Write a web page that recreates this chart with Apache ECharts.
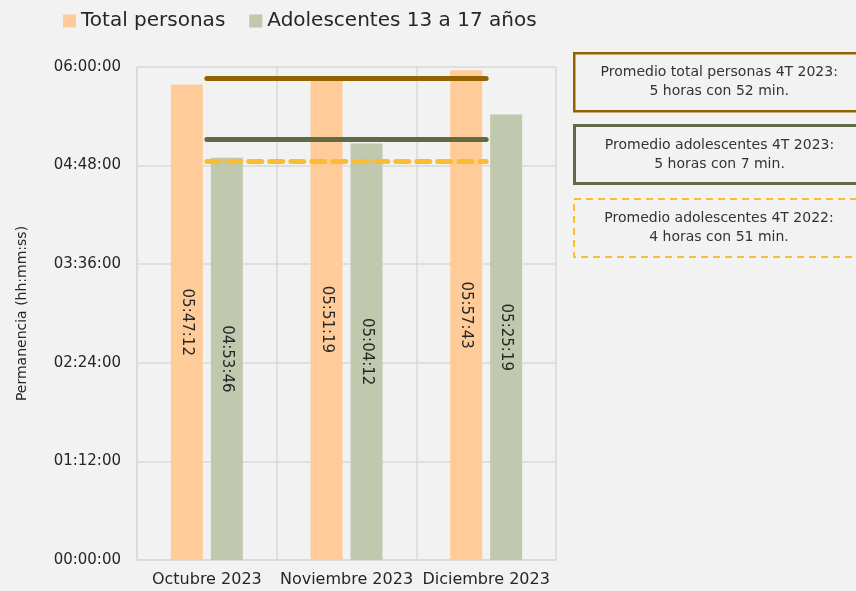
<!DOCTYPE html>
<html>
<head>
<meta charset="utf-8">
<script src="https://cdn.jsdelivr.net/npm/echarts@6/dist/echarts.min.js"></script>
<style>
  html, body { margin: 0; padding: 0; background: #f2f2f2; }
  #main { width: 856px; height: 591px; }
</style>
</head>
<body>
<div id="main"></div>
<script>
var months = ["Octubre 2023", "Noviembre 2023", "Diciembre 2023"];
var totalTimes = ["05:47:12", "05:51:19", "05:57:43"];
var teenTimes = ["04:53:46", "05:04:12", "05:25:19"];
// promedios: total 4T 2023, adolescentes 4T 2023, adolescentes 4T 2022
var avgTotal2023 = "05:52:00";
var avgTeen2023 = "05:07:00";
var avgTeen2022 = "04:51:00";
var avgTexts = [
  "Promedio total personas 4T 2023:\n5 horas con 52 min.",
  "Promedio adolescentes 4T 2023:\n5 horas con 7 min.",
  "Promedio adolescentes 4T 2022:\n4 horas con 51 min."
];

function toSec(t) {
  var p = t.split(":");
  return (+p[0]) * 3600 + (+p[1]) * 60 + (+p[2]);
}
function pad(n) { return (n < 10 ? "0" : "") + n; }
function toHms(s) {
  s = Math.round(s);
  return pad(Math.floor(s / 3600)) + ":" + pad(Math.floor((s % 3600) / 60)) + ":" + pad(s % 60);
}

var font = "'DejaVu Sans', 'Liberation Sans', sans-serif";
var chart = echarts.init(document.getElementById("main"));

function avgLine(t, color, type) {
  var v = toSec(t);
  return [
    { coord: [0, v], lineStyle: { color: color, width: 5, type: type, cap: "round" } },
    { coord: [2, v] }
  ];
}

function box(y, text, color, width, dashed) {
  return {
    type: "group",
    left: 573,
    top: y,
    children: [
      {
        type: "rect",
        shape: { x: 0, y: 0, width: 290, height: 58 },
        style: { fill: "#f2f2f2", stroke: color, lineWidth: width, lineDash: dashed ? [7, 5] : null }
      },
      {
        type: "text",
        x: 145,
        y: 29,
        style: {
          text: text, fill: "#333333", font: "14px " + font,
          align: "center", verticalAlign: "middle", lineHeight: 19
        }
      }
    ]
  };
}

var barLabel = {
  show: true, position: "inside", rotate: -90,
  fontSize: 15, color: "#262626", formatter: function (p) { return toHms(p.value); }
};

var option = {
  backgroundColor: "#f2f2f2",
  textStyle: { fontFamily: font },
  legend: {
    data: ["Total personas", "Adolescentes 13 a 17 años"],
    left: 58,
    top: 6,
    icon: "rect",
    itemWidth: 13,
    itemHeight: 13,
    itemGap: 24,
    textStyle: { fontSize: 20, color: "#262626", fontFamily: font }
  },
  grid: { left: 137, right: 300, top: 67, bottom: 31 },
  xAxis: {
    type: "category",
    data: months,
    axisLine: { lineStyle: { color: "#d9d9d9", width: 1.5 } },
    axisTick: { show: false },
    splitLine: { show: true, interval: 0, lineStyle: { color: "#d9d9d9", width: 1.5 } },
    axisLabel: { interval: 0, hideOverlap: false, fontSize: 16, color: "#262626", margin: 12 }
  },
  yAxis: {
    type: "value",
    min: 0,
    max: 21600,
    interval: 4320,
    name: "Permanencia (hh:mm:ss)",
    nameLocation: "middle",
    nameGap: 108,
    nameTextStyle: { fontSize: 14, color: "#262626" },
    axisLine: { show: true, lineStyle: { color: "#d9d9d9", width: 1.5 } },
    splitLine: { lineStyle: { color: "#d9d9d9", width: 1.5 } },
    axisLabel: { fontSize: 15, color: "#262626", margin: 16, formatter: toHms }
  },
  series: [
    {
      name: "Total personas",
      type: "bar",
      barWidth: 32,
      barGap: "25%",
      itemStyle: { color: "#ffcc99" },
      data: totalTimes.map(toSec),
      label: barLabel
    },
    {
      name: "Adolescentes 13 a 17 años",
      type: "bar",
      barWidth: 32,
      itemStyle: { color: "#c0c8ad" },
      data: teenTimes.map(toSec),
      label: barLabel
    },
    {
      name: "promedios",
      type: "line",
      data: [],
      markLine: {
        silent: true,
        symbol: "none",
        label: { show: false },
        data: [
          avgLine(avgTotal2023, "#946300", "solid"),
          avgLine(avgTeen2023, "#606a45", "solid"),
          avgLine(avgTeen2022, "#fbbc33", [13, 8])
        ]
      }
    }
  ],
  graphic: [
    box(52, avgTexts[0], "#946300", 2.5, false),
    box(124, avgTexts[1], "#606a45", 3, false),
    box(198, avgTexts[2], "#fbbc33", 2, true)
  ]
};
chart.setOption(option);
</script>
</body>
</html>
